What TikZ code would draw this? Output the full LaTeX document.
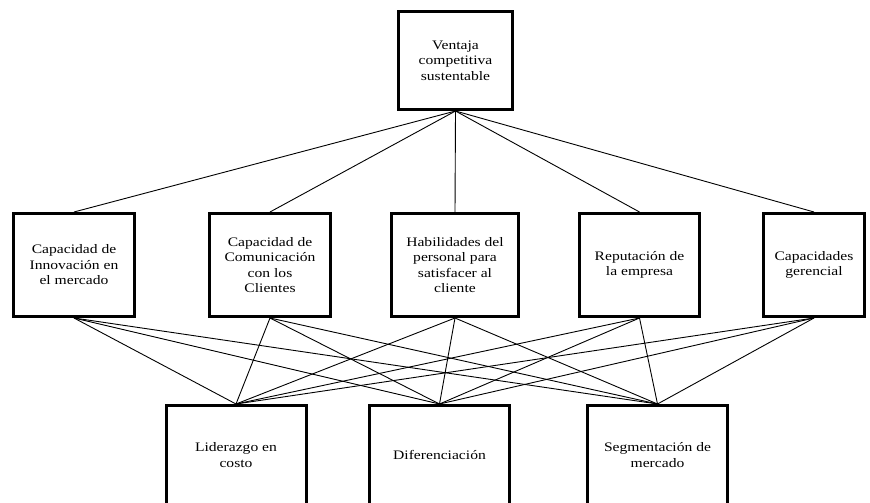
\documentclass[tikz,border=0pt]{standalone}
\usepackage{fontspec}
\setmainfont[FakeStretch=1.2]{Liberation Serif}
\begin{document}
\begin{tikzpicture}[x=1pt, y=-1pt,
    caja/.style={draw, line width=3pt, align=center, inner sep=0pt,
      font=\fontsize{13}{15.5}\selectfont},
    enlace/.style={line width=0.9pt}]
  \useasboundingbox (0,0) rectangle (870,503);
  \clip (0,0) rectangle (870,503);
  % nivel superior
  \node[caja, minimum width=114pt, minimum height=98pt] (ventaja) at (455.5,60.5) {Ventaja\\competitiva\\sustentable};
  % capacidades
  \node[caja, minimum width=121pt, minimum height=103pt] (innov) at (74,265) {Capacidad de\\Innovación en\\el mercado};
  \node[caja, minimum width=121pt, minimum height=103pt] (comun) at (270,265) {Capacidad de\\Comunicación\\con los\\Clientes};
  \node[caja, minimum width=127pt, minimum height=103pt] (habil) at (455,265) {Habilidades del\\personal para\\satisfacer al\\cliente};
  \node[caja, minimum width=120pt, minimum height=103pt] (reput) at (639.5,265) {Reputación de\\la empresa};
  \node[caja, minimum width=101pt, minimum height=103pt] (geren) at (814,265) {Capacidades\\gerencial};
  % estrategias
  \node[caja, minimum width=140pt, minimum height=99pt] (lider) at (236,455) {Liderazgo en\\costo};
  \node[caja, minimum width=140pt, minimum height=99pt] (difer) at (439.5,455) {Diferenciación};
  \node[caja, minimum width=140pt, minimum height=99pt] (segme) at (657.5,455) {Segmentación de\\mercado};
  % enlaces
  \foreach \m in {innov,comun,habil,reput,geren} {
    \draw[enlace] (ventaja.south) -- (\m.north);
    \foreach \e in {lider,difer,segme}
      \draw[enlace] (\m.south) -- (\e.north);
  }
\end{tikzpicture}
\end{document}
